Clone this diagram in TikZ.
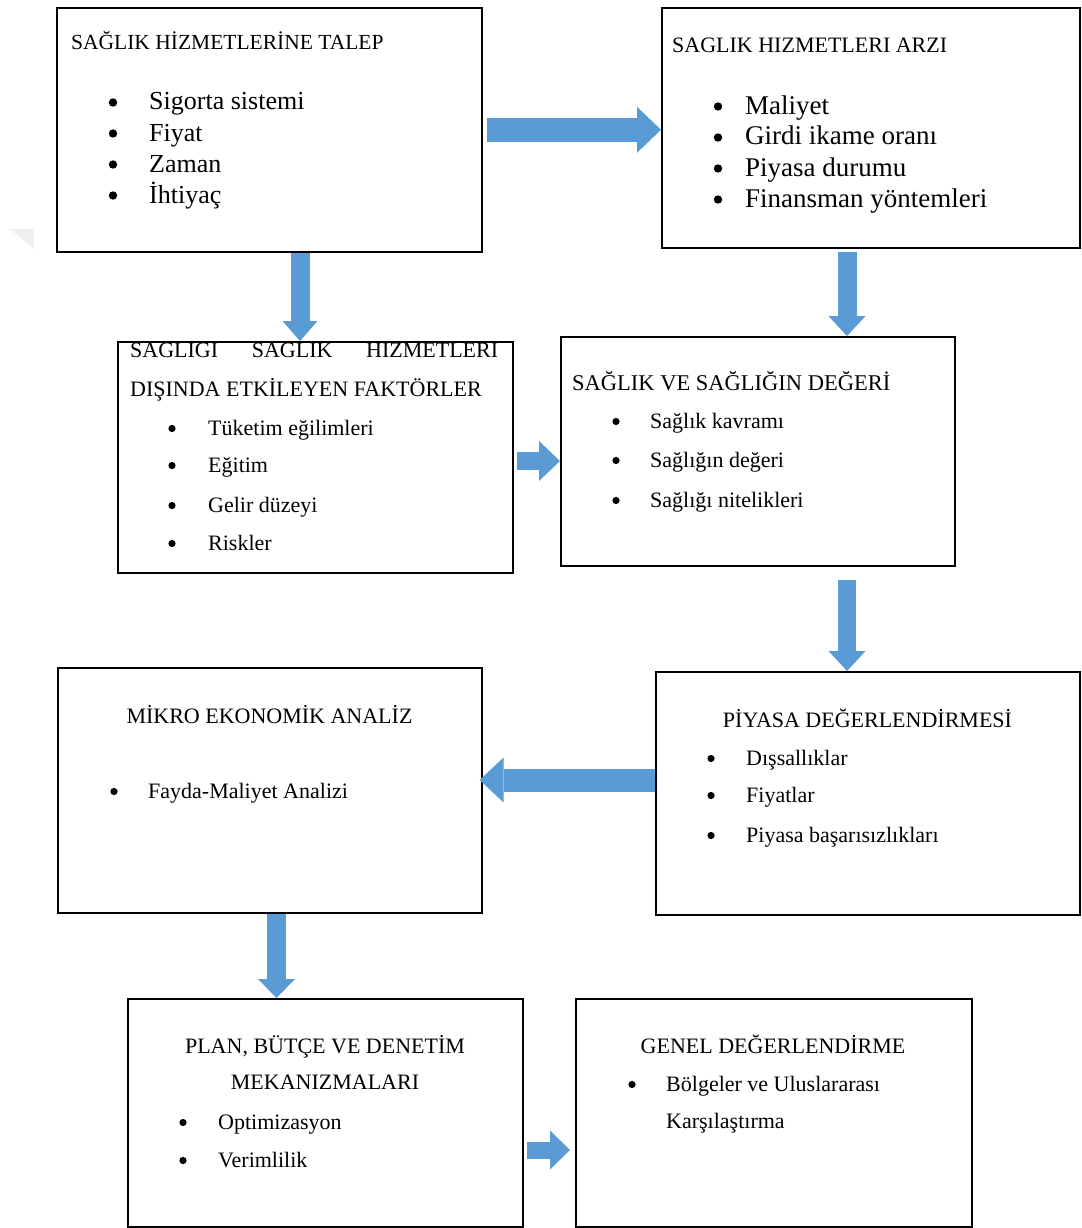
\documentclass[tikz,border=0pt]{standalone}
\usepackage{fontspec}
\setmainfont{Liberation Serif}
\usetikzlibrary{arrows.meta}
\definecolor{flowblue}{HTML}{5B9BD5}
\newcommand\fs[1]{\fontsize{#1}{#1}\selectfont}
% round bullet left of an item node: node, distance to the text, height, radius
\newcommand\dotbefore[4]{\fill[black] ([xshift=-#2pt, yshift=#3pt]#1.base west) circle (#4pt);}
\begin{document}
\begin{tikzpicture}[x=1pt,y=-1pt,
  box/.style={draw=black, line width=1.6pt, anchor=north west, inner sep=0pt, fill=none},
  ttl/.style={anchor=base west, inner sep=0pt, font=\fs{22}},
  ctl/.style={anchor=base, inner sep=0pt, font=\fs{22}},
  itm/.style={anchor=base west, inner sep=0pt, font=\fs{22}},
  flow/.style n args={3}{draw=flowblue, line width=#1pt,
    -{Triangle[width=#2pt, length=#3pt, line width=0pt]}}]

\useasboundingbox (0,0) rectangle (1081,1228);
\fill[white] (0,0) rectangle (1081,1228);

% faint mark at the left margin
\fill[gray!12] (10,229) -- (34,229) -- (34,249) -- cycle;

% ---------- boxes ----------
\node[box, minimum width=425pt, minimum height=244pt] (dem) at (56,7) {};
\node[box, minimum width=418pt, minimum height=240pt] (sup) at (661,7) {};
\node[box, minimum width=395pt, minimum height=231pt] (fac) at (117,341) {};
\node[box, minimum width=394pt, minimum height=229pt] (val) at (560,336) {};
\node[box, minimum width=424pt, minimum height=243pt] (mkt) at (655,671) {};
\node[box, minimum width=424pt, minimum height=245pt] (mik) at (57,667) {};
\node[box, minimum width=395pt, minimum height=228pt] (pln) at (127,998) {};
\node[box, minimum width=396pt, minimum height=228pt] (gen) at (575,998) {};

% ---------- block arrows ----------
\coordinate (cB) at (300,0);
\coordinate (cC) at (847,0);
\coordinate (cD) at (0,461);
\coordinate (cF) at (0,780);
\coordinate (cG) at (276.5,0);
\coordinate (cH) at (0,1150);

\draw[flow={24}{46}{24}, shorten <=4pt] (dem.east) -- (sup.west |- dem.east);
\draw[flow={19}{35}{20}] (dem.south -| cB) -- (fac.north -| cB);
\draw[flow={19}{37}{20}, shorten <=3pt] (sup.south -| cC) -- (val.north -| cC);
\draw[flow={18}{40}{21}, shorten <=3pt] (fac.east |- cD) -- (val.west |- cD);
\draw[flow={18}{37}{20}, shorten <=13pt] (val.south -| cC) -- (mkt.north -| cC);
\draw[flow={23}{45}{24}, shorten >=-3pt] (mkt.west |- cF) -- (mik.east |- cF);
\draw[flow={19}{37}{19}] (mik.south -| cG) -- (pln.north -| cG);
\draw[flow={17}{39}{20}, shorten <=3pt, shorten >=5pt] (pln.east |- cH) -- (gen.west |- cH);

% ---------- demand ----------
\node[ttl, font=\fs{21.5}] (demT) at (71,50) {SAĞLIK HİZMETLERİNE TALEP};
\node[itm, font=\fs{26}] (demA) at (149,110) {Sigorta sistemi};
\node[itm, font=\fs{26}] (demB) at (149,141) {Fiyat};
\node[itm, font=\fs{26}] (demC) at (149,172) {Zaman};
\node[itm, font=\fs{26}] (demD) at (149,203) {İhtiyaç};
\foreach \n in {demA,demB,demC,demD} {\dotbefore{\n}{36}{7.5}{4.2}}

% ---------- supply ----------
\node[ttl] (supT) at (672,53) {SAGLIK HIZMETLERI ARZI};
\node[itm, font=\fs{27}] (supA) at (745,114) {Maliyet};
\node[itm, font=\fs{27}] (supB) at (745,145) {Girdi ikame oranı};
\node[itm, font=\fs{27}] (supC) at (745,176) {Piyasa durumu};
\node[itm, font=\fs{27}] (supD) at (745,207) {Finansman yöntemleri};
\foreach \n in {supA,supB,supC,supD} {\dotbefore{\n}{27}{7.5}{4.2}}

% ---------- other factors ----------
\node[ttl] (facT) at (130,357) {\makebox[368pt][s]{SAGLIGI SAGLIK HIZMETLERI}};
\node[ttl] (facU) at (130,396) {DIŞINDA ETKİLEYEN FAKTÖRLER};
\node[itm] (facA) at (208,435) {Tüketim eğilimleri};
\node[itm] (facB) at (208,472) {Eğitim};
\node[itm] (facC) at (208,512) {Gelir düzeyi};
\node[itm] (facD) at (208,550) {Riskler};
\foreach \n in {facA,facB,facC,facD} {\dotbefore{\n}{36}{6.5}{3.6}}

% ---------- value of health ----------
\node[ttl, font=\fs{22.5}] (valT) at (572,390) {SAĞLIK VE SAĞLIĞIN DEĞERİ};
\node[itm] (valA) at (650,428) {Sağlık kavramı};
\node[itm] (valB) at (650,467) {Sağlığın değeri};
\node[itm] (valC) at (650,507) {Sağlığı nitelikleri};
\foreach \n in {valA,valB,valC} {\dotbefore{\n}{34}{6.5}{3.6}}

% ---------- market ----------
\node[ctl] (mktT) at (867.5,727) {PİYASA DEĞERLENDİRMESİ};
\node[itm] (mktA) at (746,765) {Dışsallıklar};
\node[itm] (mktB) at (746,802) {Fiyatlar};
\node[itm] (mktC) at (746,842) {Piyasa başarısızlıkları};
\foreach \n in {mktA,mktB,mktC} {\dotbefore{\n}{35}{6.5}{3.6}}

% ---------- micro analysis ----------
\node[ctl] (mikT) at (269.5,723) {MİKRO EKONOMİK ANALİZ};
\node[itm] (mikA) at (148,798) {Fayda-Maliyet Analizi};
\dotbefore{mikA}{34}{6.5}{3.6}

% ---------- planning ----------
\node[ctl] (plnT) at (325,1053) {PLAN, BÜTÇE VE DENETİM};
\node[ctl] (plnU) at (325,1089) {MEKANIZMALARI};
\node[itm] (plnA) at (218,1129) {Optimizasyon};
\node[itm] (plnB) at (218,1167) {Verimlilik};
\foreach \n in {plnA,plnB} {\dotbefore{\n}{35}{6.5}{3.6}}

% ---------- overall ----------
\node[ctl] (genT) at (773,1053) {GENEL DEĞERLENDİRME};
\node[itm] (genA) at (666,1091) {Bölgeler ve Uluslararası};
\node[itm] (genB) at (666,1128) {Karşılaştırma};
\dotbefore{genA}{34}{6.5}{3.6}
\end{tikzpicture}
\end{document}
